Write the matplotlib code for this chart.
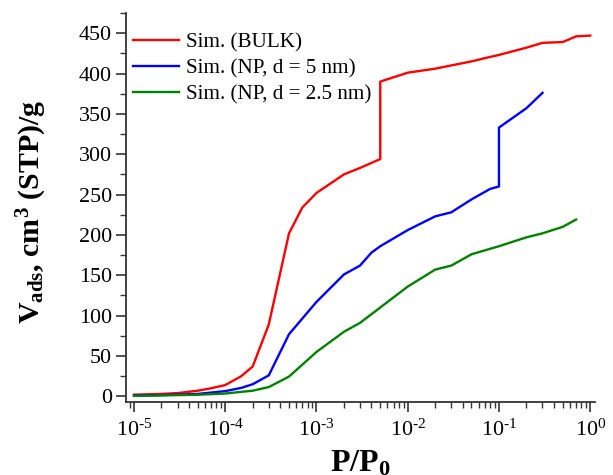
import numpy as np
import matplotlib
matplotlib.use('Agg')
import matplotlib.pyplot as plt
from matplotlib.ticker import LogLocator, MultipleLocator, FixedLocator

plt.rcParams['font.family'] = 'Liberation Serif'
plt.rcParams['mathtext.fontset'] = 'custom'
plt.rcParams['mathtext.rm'] = 'Liberation Serif'
plt.rcParams['mathtext.it'] = 'Liberation Serif:italic'
plt.rcParams['mathtext.bf'] = 'Liberation Serif:bold'

# isotermas simuladas
p_bulk = [1e-5, 2e-5, 3e-5, 5e-5, 7e-5, 1e-4, 1.5e-4, 2e-4, 3e-4, 5e-4, 7e-4, 1e-3,
          2e-3, 3e-3, 5e-3, 5e-3, 1e-2, 2e-2, 3e-2, 5e-2, 7e-2, 0.1, 0.2, 0.3, 0.5, 0.7, 1.0]
v_bulk = [2, 3, 4, 7, 10, 14, 25, 37, 89, 202, 234, 252,
          275, 283, 294, 390, 401, 406, 410, 415, 419, 423, 432, 438, 439, 446, 447]

p_np5 = [1e-5, 2e-5, 5e-5, 1e-4, 1.5e-4, 2e-4, 3e-4, 5e-4, 1e-3, 2e-3, 3e-3, 4e-3,
         5e-3, 1e-2, 2e-2, 3e-2, 5e-2, 8e-2, 0.1, 0.1, 0.2, 0.3]
v_np5 = [1, 1.5, 3, 6.5, 10.5, 15, 26, 77, 117, 151, 162, 178,
         186, 206, 223, 228, 244, 257, 260, 333, 357, 376]

p_np25 = [1e-5, 5e-5, 1e-4, 2e-4, 3e-4, 5e-4, 1e-3, 2e-3, 3e-3, 1e-2, 2e-2, 3e-2,
          5e-2, 0.1, 0.2, 0.3, 0.5, 0.7]
v_np25 = [0.5, 2, 3.5, 7, 11.5, 24.5, 55, 80, 91, 136, 157, 162,
          176, 186, 197, 202, 210, 219]

labels = ['Sim. (BULK)', 'Sim. (NP, d = 5 nm)', 'Sim. (NP, d = 2.5 nm)']
colores = ['#ff0000', '#0000ff', '#008000']
decadas = [-5, -4, -3, -2, -1, 0]

fig = plt.figure(figsize=(6.13, 4.75), dpi=100)
ax = fig.add_axes([0.2055, 0.1537, 0.7655, 0.819])

for (p, v), lab, c in zip([(p_bulk, v_bulk), (p_np5, v_np5), (p_np25, v_np25)], labels, colores):
    ax.plot(p, v, color=c, linewidth=1.7, label=lab)

ax.set_xscale('log')
ax.set_xlim(10**-5.088, 10**0.055)
ax.set_ylim(-7, 475)

ax.xaxis.set_major_locator(FixedLocator([10.0**d for d in decadas]))
ax.xaxis.set_minor_locator(LogLocator(base=10, subs=np.arange(2, 10), numticks=20))
ax.set_xticklabels([r'$10^{\text{%d}}$' % d for d in decadas])
ax.set_yticks(np.arange(0, 451, 50))
ax.yaxis.set_minor_locator(MultipleLocator(25))

for s in ['top', 'right']:
    ax.spines[s].set_visible(False)
for s in ['left', 'bottom']:
    ax.spines[s].set_color('#333333')
    ax.spines[s].set_linewidth(1.3)

ax.tick_params(which='major', direction='out', length=7, width=1.2, color='#333333',
               labelsize=15.8, pad=3)
ax.tick_params(which='minor', direction='out', length=4, width=1.0, color='#333333')
ax.tick_params(axis='x', which='major', pad=6)

ax.set_xlabel(r'$\mathbf{P/P_0}$', fontsize=23)
ax.xaxis.set_label_coords(0.5, -0.122)
ax.set_ylabel(r'$\mathbf{V_{ads}}$, cm$^{\mathbf{3}}$ (STP)/g', fontsize=21.5,
              fontweight='bold')
ax.yaxis.set_label_coords(-0.163, 0.49)

ax.legend(loc='upper left', frameon=False, fontsize=15.2, handlelength=2.2,
          handletextpad=0.3, labelspacing=0.3, borderaxespad=0.0,
          bbox_to_anchor=(-0.003, 0.972))

fig.savefig('out.png', dpi=100)
